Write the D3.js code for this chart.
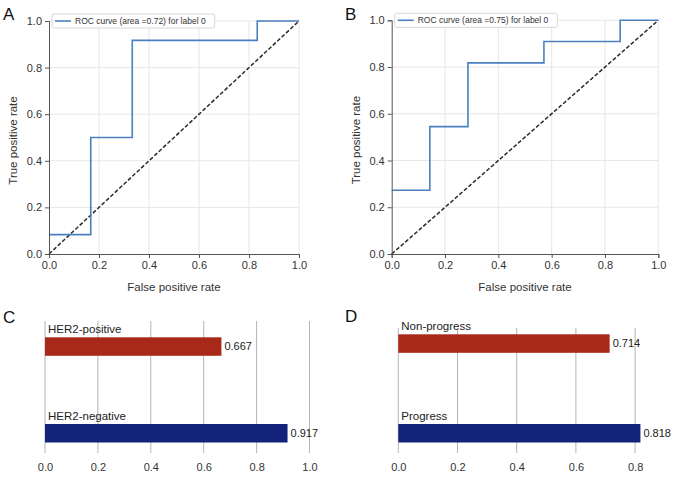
<!DOCTYPE html>
<html>
<head>
<meta charset="utf-8">
<script src="https://cdn.jsdelivr.net/npm/d3@7"></script>
<style>
  body { margin: 0; background: #fff; }
  svg { font-family: "Liberation Sans", Arial, sans-serif; display: block; }
</style>
</head>
<body>
<svg id="fig" width="675" height="477"></svg>
<script>
// ROC curve A (HER2)
const fprA = [0, 0.167, 0.167, 0.333, 0.333, 0.833, 0.833, 1];
const tprA = [0.083, 0.083, 0.5, 0.5, 0.917, 0.917, 1, 1];
// ROC curve B (progress)
const fprB = [0, 0.143, 0.143, 0.286, 0.286, 0.571, 0.571, 0.857, 0.857, 1];
const tprB = [0.273, 0.273, 0.545, 0.545, 0.818, 0.818, 0.909, 0.909, 1, 1];
const legendA = "ROC curve (area =0.72) for label 0";
const legendB = "ROC curve (area =0.75) for label 0";

// bar panels
const groupsC = ["HER2-positive", "HER2-negative"];
const valuesC = [0.667, 0.917];
const groupsD = ["Non-progress", "Progress"];
const valuesD = [0.714, 0.818];
const barColors = ["#a8291a", "#13237a"];

const rocTicks = [0, 0.2, 0.4, 0.6, 0.8, 1.0];
const ticksC = [0, 0.2, 0.4, 0.6, 0.8, 1.0];
const ticksD = [0, 0.2, 0.4, 0.6, 0.8];

const svg = d3.select("#fig");
const fmt = d3.format(".1f");

const drawRoc = (fpr, tpr, legend, x0, x1, y0, y1, letter, lx) => {
  const x = d3.scaleLinear().domain([0, 1]).range([x0, x1]);
  const y = d3.scaleLinear().domain([0, 1]).range([y0, y1]);
  const g = svg.append("g");

  // grid
  g.selectAll(".vg").data(rocTicks.slice(1)).enter().append("line")
    .attr("x1", (d) => x(d)).attr("x2", (d) => x(d))
    .attr("y1", y(0)).attr("y2", y(1))
    .attr("stroke", "#e6e6e6").attr("stroke-width", 1);
  g.selectAll(".hg").data(rocTicks.slice(1)).enter().append("line")
    .attr("x1", x(0)).attr("x2", x(1))
    .attr("y1", (d) => y(d)).attr("y2", (d) => y(d))
    .attr("stroke", "#e6e6e6").attr("stroke-width", 1);

  // diagonal
  g.append("line")
    .attr("x1", x(0)).attr("y1", y(0)).attr("x2", x(1)).attr("y2", y(1))
    .attr("stroke", "#2a2a2a").attr("stroke-width", 1.5).attr("stroke-dasharray", "4,2");

  // roc curve
  const pts = fpr.map((f, i) => [f, tpr[i]]);
  g.append("path").datum(pts)
    .attr("d", d3.line().x((d) => x(d[0])).y((d) => y(d[1])))
    .attr("fill", "none").attr("stroke", "#4a80c0").attr("stroke-width", 1.6);

  // axes
  const ax = g.append("g").attr("transform", `translate(0,${y0})`)
    .call(d3.axisBottom(x).tickValues(rocTicks).tickFormat(fmt).tickSize(4).tickPadding(3));
  const ay = g.append("g").attr("transform", `translate(${x0},0)`)
    .call(d3.axisLeft(y).tickValues(rocTicks).tickFormat(fmt).tickSize(4).tickPadding(3));
  [ax, ay].forEach((a) => {
    a.select(".domain").attr("stroke", "#555");
    a.selectAll(".tick line").attr("stroke", "#555");
    a.selectAll("text").attr("font-size", 11).attr("fill", "#333")
      .attr("font-family", "Liberation Sans, Arial, sans-serif");
  });

  // legend
  const lgx = x0 + 3, lgy = y1 - 7;
  const lg = g.append("g");
  const txt = lg.append("text").attr("x", lgx + 23).attr("y", lgy + 10)
    .attr("font-size", 8.5).attr("fill", "#333").text(legend);
  const tw = txt.node().getComputedTextLength();
  lg.insert("rect", "text").attr("x", lgx).attr("y", lgy)
    .attr("width", tw + 32).attr("height", 14).attr("rx", 2)
    .attr("fill", "#fff").attr("stroke", "#d8d8d8");
  lg.append("line").attr("x1", lgx + 3).attr("x2", lgx + 19)
    .attr("y1", lgy + 7).attr("y2", lgy + 7)
    .attr("stroke", "#4a80c0").attr("stroke-width", 1.6);

  g.append("text").attr("x", (x0 + x1) / 2).attr("y", y0 + 37)
    .attr("text-anchor", "middle").attr("font-size", 11.5).attr("fill", "#333")
    .text("False positive rate");
  g.append("text").attr("transform", `translate(${x0 - 32},${(y0 + y1) / 2 + 3}) rotate(-90)`)
    .attr("text-anchor", "middle").attr("font-size", 11.5).attr("fill", "#333")
    .text("True positive rate");
  g.append("text").attr("x", lx).attr("y", 20).attr("font-size", 17).attr("fill", "#111")
    .text(letter);
};

drawRoc(fprA, tprA, legendA, 49, 299, 254, 21, "A", 3);
drawRoc(fprB, tprB, legendB, 391.7, 658.3, 254, 20.3, "B", 345);

const drawBars = (groups, values, ticks, x0, unit, gridTop, barY, letter, lx, ly) => {
  const x = d3.scaleLinear().domain([0, 0.2]).range([x0, x0 + unit]);
  const g = svg.append("g");

  g.selectAll(".grid").data(ticks).enter().append("line")
    .attr("x1", (d) => x(d)).attr("x2", (d) => x(d))
    .attr("y1", gridTop).attr("y2", 453)
    .attr("stroke", "#b4b4b4").attr("stroke-width", 1);

  const ax = g.append("g").attr("transform", "translate(0,453)")
    .call(d3.axisBottom(x).tickValues(ticks).tickFormat(fmt).tickSize(0).tickPadding(10));
  ax.select(".domain").remove();
  ax.selectAll("text").attr("font-size", 11).attr("fill", "#333")
    .attr("font-family", "Liberation Sans, Arial, sans-serif");

  const y = d3.scaleOrdinal().domain(groups).range(barY);
  g.selectAll(".bar").data(values).enter().append("rect")
    .attr("x", x(0)).attr("y", (d, i) => y(groups[i]))
    .attr("width", (d) => x(d) - x(0)).attr("height", 18.5)
    .attr("fill", (d, i) => barColors[i]);
  g.selectAll(".val").data(values).enter().append("text")
    .attr("x", (d) => x(d) + 3).attr("y", (d, i) => y(groups[i]) + 13)
    .attr("font-size", 11).attr("fill", "#222").text((d) => d3.format(".3f")(d));
  g.selectAll(".lab").data(groups).enter().append("text")
    .attr("x", x(0) + 3).attr("y", (d) => y(d) - 4.5)
    .attr("font-size", 11.5).attr("fill", "#222").text((d) => d);
  g.append("text").attr("x", lx).attr("y", ly).attr("font-size", 17).attr("fill", "#111")
    .text(letter);
};

drawBars(groupsC, valuesC, ticksC, 45, 52.9, 321, [337.3, 424], "C", 3, 323);
drawBars(groupsD, valuesD, ticksD, 398.3, 59.2, 328, [334.3, 424], "D", 345, 322);
</script>
</body>
</html>
